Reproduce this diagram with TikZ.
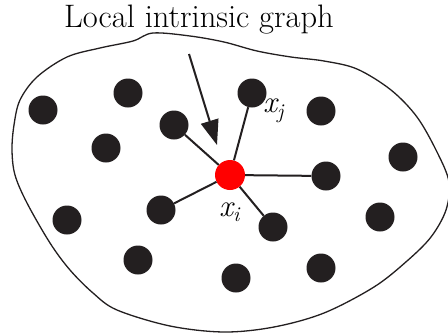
\documentclass[tikz,border=0pt]{standalone}
\usetikzlibrary{arrows.meta}
\definecolor{dotblack}{HTML}{231F20}
\begin{document}
\begin{tikzpicture}[x=1pt,y=-1pt,
  dot/.style={circle,fill=dotblack,minimum size=29pt,inner sep=0pt,draw=none},
  reddot/.style={circle,fill=red,minimum size=30pt,inner sep=0pt,draw=none},
  edge/.style={draw=dotblack,line width=2pt},
  pointer/.style={draw=dotblack,fill=dotblack,line width=2pt,-{Triangle[width=18pt,length=25pt]}},
  outline/.style={draw=dotblack,line width=1.3pt},
  lbl/.style={inner sep=0pt,anchor=base west,font=\fontsize{31}{31}\selectfont\itshape}]
\useasboundingbox (0,0) rectangle (448,335);
\fill[white] (0,0) rectangle (448,335);
% blob outline
\draw[outline] plot[smooth cycle,tension=0.55] coordinates {
  (153,33) (190,36) (224,42) (257,51) (291,57) (324,61) (357,69) (391,90)
  (417,117) (437,152) (449,182) (446,210) (431,237) (407,261) (374,287)
  (324,313) (274,327) (224,332) (170,326) (117,310) (93,293) (70,270)
  (50,243) (27,203) (15,175) (12,150) (14,125) (20,100) (37,77) (67,57)
  (100,48) (133,41)};
% title
\node[inner sep=0pt,anchor=base,font=\fontsize{32.5}{33}\selectfont] (title) at (199,27) {Local intrinsic graph};
% dots
\node[dot] (d1) at (43,110) {};
\node[dot] (d2) at (128,93) {};
\node[dot] (d3) at (106,148) {};
\node[dot] (d4) at (174,125) {};
\node[dot] (d5) at (252,93) {};
\node[dot] (d6) at (321,111) {};
\node[dot] (d7) at (403,157) {};
\node[dot] (d9) at (326,176) {};
\node[dot] (d10) at (67,220) {};
\node[dot] (d11) at (161,210) {};
\node[dot] (d12) at (273,227) {};
\node[dot] (d13) at (380,217) {};
\node[dot] (d14) at (138,260) {};
\node[dot] (d15) at (236,278) {};
\node[dot] (d16) at (321,268) {};
\node[reddot] (ctr) at (230,175) {};
% edges
\draw[edge] (ctr) -- (d4);
\draw[edge] (ctr) -- (d5);
\draw[edge] (ctr) -- (d9);
\draw[edge] (ctr) -- (d11);
\draw[edge] (ctr) -- (d12);
% pointer arrow
\coordinate (ps) at (189,54);
\coordinate (pe) at (217,145);
\draw[pointer] (ps) -- (pe);
% labels
\node[lbl] (lj) at (263,112) {x\raisebox{-6pt}{\fontsize{21}{21}\selectfont j}};
\node[lbl] (li) at (219,216) {x\raisebox{-5pt}{\fontsize{21}{21}\selectfont i}};
\end{tikzpicture}
\end{document}
